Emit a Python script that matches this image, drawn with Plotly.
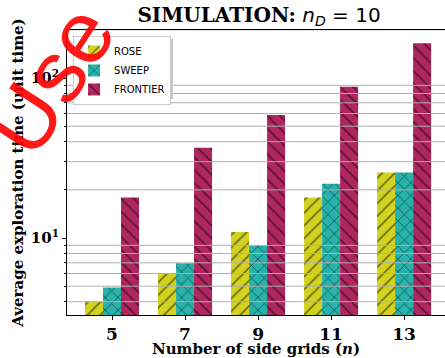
import plotly.graph_objects as go

# ---- data ----
categories = [5, 7, 9, 11, 13]
tick_labels = ["5", "7", "9", "11", "13"]
rose = [4.0, 6.0, 10.9, 17.9, 25.7]
sweep = [4.9, 6.95, 8.95, 21.8, 25.7]
frontier = [17.9, 36.6, 58.7, 88.3, 165.0]
series_names = ["ROSE", "SWEEP", "FRONTIER"]
y_major = [10, 100]
y_major_text = ["<b>10<sup>1</sup></b>", "<b>10<sup>2</sup></b>"]
y_minor = [4, 5, 6, 7, 8, 9, 20, 30, 40, 50, 60, 70, 80, 90, 200]

colors = ["#d3d31f", "#27b2ab", "#b02660"]
hatches = ["/", "x", "\\"]

fig = go.Figure()
for name, vals, col, hat in zip(series_names, [rose, sweep, frontier], colors, hatches):
    fig.add_trace(go.Bar(
        x=categories, y=vals, name=name,
        marker=dict(color=col, line=dict(width=0),
                    pattern=dict(shape=hat, fgcolor="black", size=9, solidity=0.18)),
    ))

serif = "DejaVu Serif"
grid_shapes = [
    dict(type="line", xref="paper", x0=0, x1=1, yref="y", y0=v, y1=v,
         line=dict(color="#b0b0b0", width=1), layer="above")
    for v in y_minor
]
# soft legend shadow
W, H = 378, 285
grid_shapes.append(dict(type="rect", xref="paper", yref="paper",
                        x0=(76 - 67) / W, x1=(173 - 67) / W,
                        y0=1 - (99 - 30) / H, y1=1 - (39 - 30) / H,
                        fillcolor="#c8c8c8", line=dict(width=0), layer="above"))

fig.update_layout(
    width=445, height=358,
    margin=dict(l=67, r=0, t=30, b=43),
    plot_bgcolor="white", paper_bgcolor="white",
    barmode="group", bargap=0.26, bargroupgap=0,
    shapes=grid_shapes,
    title=dict(
        text="<b>SIMULATION:</b> <span style='font-family:DejaVu Sans'><i>n</i><sub><i>D</i></sub> = 10</span>",
        font=dict(family=serif, size=20, color="black"),
        x=(259 - 67) / 378, xref="paper", xanchor="center",
        y=1 - 15 / 358, yref="container", yanchor="middle",
    ),
    xaxis=dict(
        range=[3.767, 14.12], automargin=False,
        tickmode="array", tickvals=categories, ticktext=["<b>%s</b>" % t for t in tick_labels],
        tickfont=dict(family=serif, size=17, color="black"),
        ticks="outside", ticklen=4, tickcolor="black",
        showline=True, linecolor="black", linewidth=1, mirror=True,
        showgrid=False, zeroline=False,
        title=dict(text="<b>Number of side grids (<i>n</i>)</b>",
                   font=dict(family=serif, size=15, color="black"), standoff=2),
    ),
    yaxis=dict(
        type="log", range=[0.519, 2.3], automargin=False,
        tickmode="array", tickvals=y_major, ticktext=y_major_text,
        tickfont=dict(family=serif, size=15, color="black"),
        ticks="outside", ticklen=4, tickcolor="black",
        minor=dict(tickmode="array", tickvals=y_minor, ticks="outside", ticklen=2,
                   tickcolor="black", showgrid=False),
        showline=True, linecolor="black", linewidth=1,
        showgrid=False, zeroline=False,
        title=dict(text="<b>Average exploration time (unit time)</b>",
                   font=dict(family=serif, size=15, color="black"), standoff=3),
    ),
    legend=dict(
        x=0.016, y=0.979, xanchor="left", yanchor="top",
        bgcolor="white", bordercolor="#cccccc", borderwidth=1,
        font=dict(family="DejaVu Sans", size=10, color="black"),
        traceorder="normal", itemwidth=30,
    ),
    annotations=[dict(
        text="Use", xref="paper", yref="paper",
        x=(50 - 67) / 378, y=1 - (80 - 30) / 285,
        xanchor="center", yanchor="middle",
        showarrow=False, textangle=-57,
        font=dict(family="Liberation Sans", size=88, color="rgba(255,0,0,0.9)"),
    )],
)

fig.write_html("out.html", config={"displayModeBar": False},
               post_script="document.body.style.margin='0';")
